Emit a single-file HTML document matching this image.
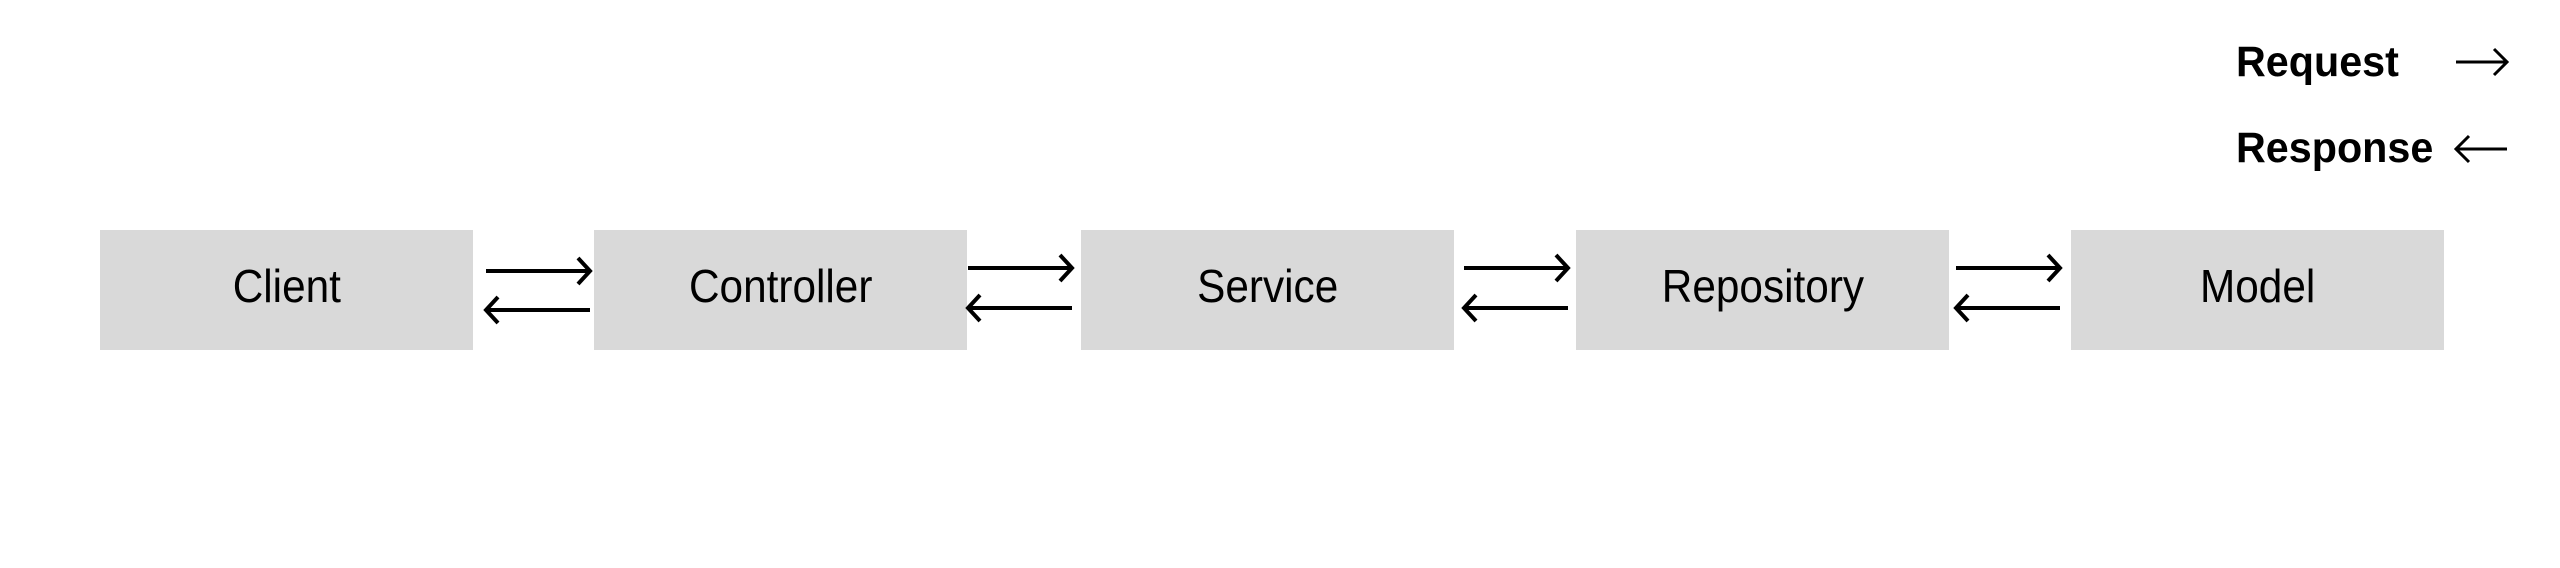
<!DOCTYPE html>
<html><head><meta charset="utf-8"><style>
html,body{margin:0;padding:0;background:#fff;width:2560px;height:568px;overflow:hidden}
.b{position:absolute;top:230px;width:373px;height:120px;background:#d9d9d9;display:flex;align-items:center;justify-content:center;font-family:"Liberation Sans",sans-serif;font-size:46px;color:#000}
.b span{display:inline-block;transform:scaleX(0.92);position:relative;top:-4px}
.l{position:absolute;font-family:"Liberation Sans",sans-serif;font-weight:bold;font-size:43px;color:#000;transform-origin:left;transform:scaleX(0.96)}
svg{position:absolute;left:0;top:0}
</style></head><body>
<div class="b" style="left:100px"><span>Client</span></div>
<div class="b" style="left:594px"><span>Controller</span></div>
<div class="b" style="left:1081px"><span>Service</span></div>
<div class="b" style="left:1576px"><span>Repository</span></div>
<div class="b" style="left:2071px"><span>Model</span></div>
<div class="l" style="left:2236px;top:38px">Request</div>
<div class="l" style="left:2236px;top:124px">Response</div>
<svg width="2560" height="568" fill="none" stroke="#000" stroke-width="4">
<g>
<path d="M2456 62H2507M2494 49L2507 62L2494 75" stroke-width="3"/>
<path d="M2507 149H2456M2469 136L2456 149L2469 162" stroke-width="3"/>
<path d="M486 271H590M578 258L590 271L578 284"/>
<path d="M590 310H486M498 297L486 310L498 323"/>
<path d="M968 268H1072M1060 255L1072 268L1060 281"/>
<path d="M1072 308H968M980 295L968 308L980 321"/>
<path d="M1464 268H1568M1556 255L1568 268L1556 281"/>
<path d="M1568 308H1464M1476 295L1464 308L1476 321"/>
<path d="M1956 268H2060M2048 255L2060 268L2048 281"/>
<path d="M2060 308H1956M1968 295L1956 308L1968 321"/>
</g>
</svg>
</body></html>
